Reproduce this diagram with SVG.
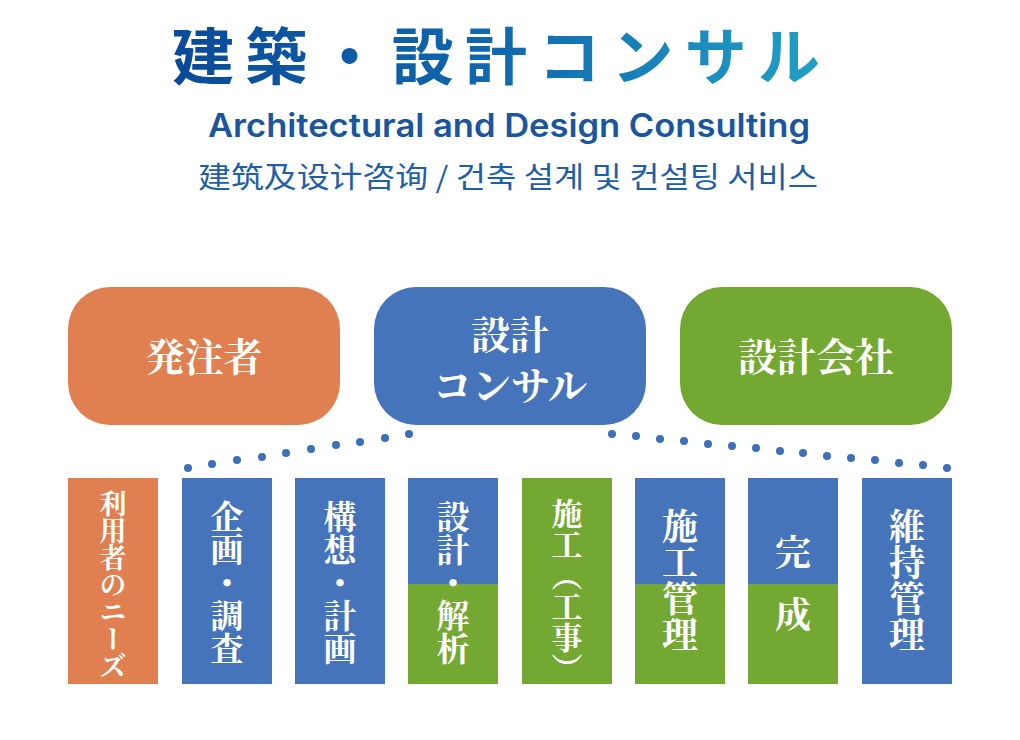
<svg xmlns="http://www.w3.org/2000/svg" width="1020" height="740" viewBox="0 0 1020 740">
<defs>
<linearGradient id="tg" x1="172" y1="0" x2="820" y2="0" gradientUnits="userSpaceOnUse">
<stop offset="0" stop-color="#0A4A98"/><stop offset="0.5" stop-color="#1068AE"/><stop offset="1" stop-color="#21A0C6"/>
</linearGradient>
</defs>
<style>
.o{fill:#E07F4F}.b{fill:#4674BA}.g{fill:#73A832}
.bt{fill:#fff;font-family:"Noto Serif CJK JP","Noto Sans CJK JP",serif;font-size:39px;font-weight:bold;text-anchor:middle}
.vt{fill:#fff;font-family:"Noto Serif CJK JP","Noto Sans CJK JP",serif;font-weight:bold;writing-mode:vertical-rl;text-orientation:upright}
.dot{fill:#3E6FBB}
</style>
<rect width="1020" height="740" fill="#fff"/>
<g id="title">
<text x="172" y="80" font-family="Noto Sans CJK JP,sans-serif" font-weight="bold" font-size="62" textLength="648" lengthAdjust="spacing" fill="url(#tg)">建築・設計コンサル</text>
<text x="208" y="137" font-family="Inter,Roboto,sans-serif" font-weight="600" font-size="32" fill="#1A55A0" textLength="602" lengthAdjust="spacingAndGlyphs">Architectural and Design Consulting</text>
<text x="198" y="188" font-family="Noto Sans CJK SC,Noto Sans CJK KR,sans-serif" font-size="29" fill="#1F5FA8" textLength="620" lengthAdjust="spacingAndGlyphs">建筑及设计咨询 / 건축 설계 및 컨설팅 서비스</text>
</g>
<g id="client"><rect x="68" y="287" width="272" height="138" rx="42" class="o"/><text x="204" y="371" class="bt">発注者</text></g>
<g id="consul"><rect x="374" y="287" width="272" height="138" rx="42" class="b"/><text x="510" y="349" class="bt">設計</text><text x="510" y="400" class="bt">コンサル</text></g>
<g id="company"><rect x="680" y="287" width="272" height="138" rx="42" class="g"/><text x="816" y="371" class="bt">設計会社</text></g>
<g id="connectors">
<circle cx="188" cy="468" r="4" class="dot"/><circle cx="212" cy="464" r="4" class="dot"/><circle cx="237" cy="460" r="4" class="dot"/><circle cx="262" cy="457" r="4" class="dot"/><circle cx="286" cy="453" r="4" class="dot"/><circle cx="311" cy="449" r="4" class="dot"/><circle cx="336" cy="445" r="4" class="dot"/><circle cx="360" cy="442" r="4" class="dot"/><circle cx="385" cy="438" r="4" class="dot"/><circle cx="409" cy="434" r="4" class="dot"/>
<circle cx="612" cy="434" r="4" class="dot"/><circle cx="636" cy="436" r="4" class="dot"/><circle cx="660" cy="439" r="4" class="dot"/><circle cx="684" cy="441" r="4" class="dot"/><circle cx="708" cy="444" r="4" class="dot"/><circle cx="732" cy="446" r="4" class="dot"/><circle cx="756" cy="448" r="4" class="dot"/><circle cx="780" cy="451" r="4" class="dot"/><circle cx="803" cy="453" r="4" class="dot"/><circle cx="827" cy="456" r="4" class="dot"/><circle cx="851" cy="458" r="4" class="dot"/><circle cx="875" cy="460" r="4" class="dot"/><circle cx="899" cy="463" r="4" class="dot"/><circle cx="923" cy="465" r="4" class="dot"/><circle cx="947" cy="468" r="4" class="dot"/>
</g>
<g id="c1"><rect x="68" y="478" width="90" height="206" class="o"/><text x="113" y="490" class="vt" font-size="27">利用者のニーズ</text></g>
<g id="c2"><rect x="182" y="478" width="90" height="206" class="b"/><text x="227" y="500" class="vt" font-size="33">企画・調査</text></g>
<g id="c3"><rect x="295" y="478" width="90" height="206" class="b"/><text x="340" y="500" class="vt" font-size="33">構想・計画</text></g>
<g id="c4"><rect x="408" y="478" width="90" height="106" class="b"/><rect x="408" y="584" width="90" height="100" class="g"/><text x="453" y="500" class="vt" font-size="33">設計・解析</text></g>
<g id="c5"><rect x="522" y="478" width="90" height="206" class="g"/><text x="567" y="498" class="vt" font-size="31">施工（工事）</text></g>
<g id="c6"><rect x="635" y="478" width="90" height="106" class="b"/><rect x="635" y="584" width="90" height="100" class="g"/><text x="680" y="508" class="vt" font-size="36">施工管理</text></g>
<g id="c7"><rect x="748" y="478" width="90" height="106" class="b"/><rect x="748" y="584" width="90" height="100" class="g"/><text x="793" y="534" class="vt" font-size="36">完</text><text x="793" y="596" class="vt" font-size="36">成</text></g>
<g id="c8"><rect x="862" y="478" width="90" height="206" class="b"/><text x="907" y="508" class="vt" font-size="36">維持管理</text></g>
</svg>
